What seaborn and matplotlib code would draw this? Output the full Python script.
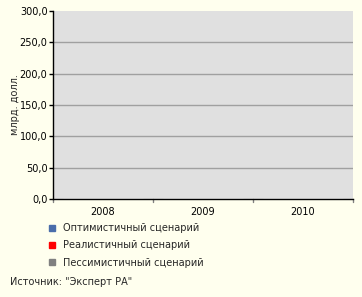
import matplotlib
matplotlib.use("Agg")
import matplotlib.pyplot as plt
import seaborn as sns
import pandas as pd
import numpy as np
from matplotlib.ticker import FuncFormatter, MultipleLocator
from matplotlib.lines import Line2D

years = ["2008", "2009", "2010"]
series = ["Оптимистичный сценарий", "Реалистичный сценарий", "Пессимистичный сценарий"]
optimistic = [0, 0, 0]
realistic = [0, 0, 0]
pessimistic = [0, 0, 0]
colors = ["#4A6DAA", "#FF0000", "#808080"]

sns.set_theme(style="white")
plt.rcParams['font.family'] = ['DejaVu Sans']

df = pd.DataFrame({
    "year": years * 3,
    "value": optimistic + realistic + pessimistic,
    "series": [s for s in series for _ in years],
})

fig = plt.figure(figsize=(3.62, 2.97), dpi=100)
fig.patch.set_facecolor("#FFFFEE")
ax = fig.add_axes([53/362, 1 - 199/297, 300/362, 188/297])
ax.set_facecolor("#E0E0E0")

sns.barplot(data=df, x="year", y="value", hue="series", palette=colors, ax=ax,
            legend=False, width=0.8)

ax.set_xlim(-0.5, 2.5)
ax.set_ylim(0, 300)
ax.yaxis.set_major_locator(MultipleLocator(50))
ax.yaxis.set_major_formatter(FuncFormatter(lambda v, p: f"{v:.1f}".replace(".", ",")))
ax.grid(False)
for yv in ax.get_yticks():
    if 0 < yv < 300:
        ax.axhline(yv, color="#A0A0A0", linewidth=1, zorder=0.5)
for s in ["top", "right"]:
    ax.spines[s].set_visible(False)
ax.spines["left"].set_color("black")
ax.spines["bottom"].set_color("black")
ax.spines["left"].set_linewidth(1)
ax.spines["bottom"].set_linewidth(1)

ax.set_xticks([0, 1, 2])
ax.set_xticklabels(years)
ax.tick_params(axis="x", length=0, labelsize=7, pad=6, colors="black")
for xb in [-0.5, 0.5, 1.5, 2.5]:
    ax.plot([xb, xb], [0, -0.015], transform=ax.get_xaxis_transform(),
            color="#808080", lw=1, clip_on=False)
ax.tick_params(axis="y", length=3, width=1, labelsize=7, left=True, colors="black", pad=1)
ax.set_xlabel("")
ax.set_ylabel("млрд. долл.", fontsize=7, labelpad=0)

handles = [Line2D([], [], marker="s", linestyle="", markersize=4,
                  markerfacecolor=c, markeredgecolor=c) for c in colors]
fig.legend(handles, series, loc="upper left", bbox_to_anchor=(47/362, 1 - 223/297),
           frameon=False, fontsize=7, handletextpad=0.6, labelspacing=0.75,
           handlelength=1.0, borderaxespad=0, borderpad=0)

fig.text(10/362, 1 - 282/297, 'Источник: "Эксперт РА"', fontsize=7, va="center")

fig.savefig("out.png", dpi=100, facecolor=fig.get_facecolor())
